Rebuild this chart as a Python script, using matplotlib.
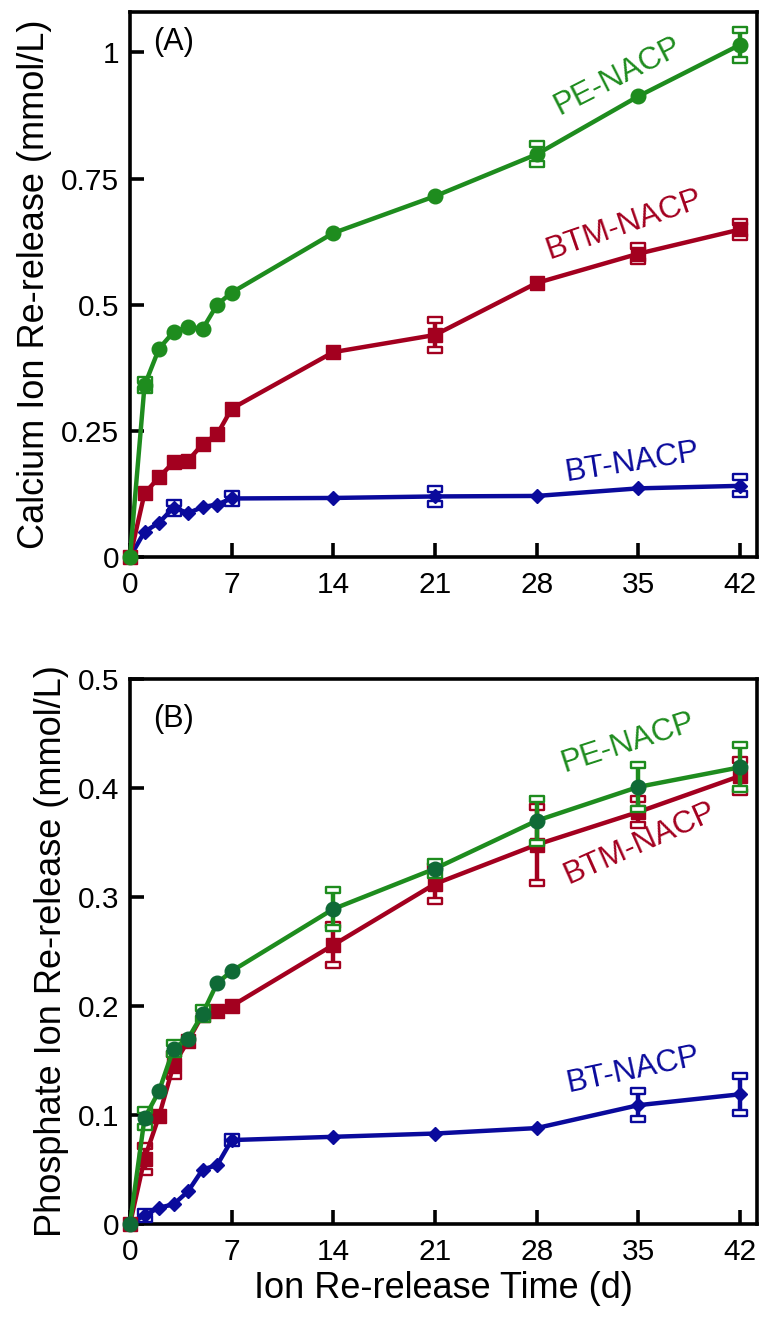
import numpy as np
import matplotlib
matplotlib.use("Agg")
import matplotlib.pyplot as plt
from matplotlib.path import Path

plt.rcParams['font.family'] = ['Liberation Sans', 'DejaVu Sans']

days = [0, 1, 2, 3, 4, 5, 6, 7, 14, 21, 28, 35, 42]
xticks = [0, 7, 14, 21, 28, 35, 42]

# Panel A: calcium
ca_pe = [0, 0.340, 0.413, 0.446, 0.456, 0.452, 0.500, 0.524, 0.642, 0.715, 0.798, 0.913, 1.015]
ca_pe_err = [0, 0.010, 0, 0, 0, 0, 0, 0, 0, 0, 0.020, 0, 0.030]
ca_btm = [0, 0.126, 0.158, 0.188, 0.191, 0.224, 0.243, 0.294, 0.406, 0.440, 0.543, 0.601, 0.649]
ca_btm_err = [0, 0, 0, 0, 0, 0, 0, 0, 0, 0.030, 0, 0.015, 0.015]
ca_bt = [0, 0.050, 0.068, 0.098, 0.087, 0.099, 0.104, 0.116, 0.117, 0.120, 0.121, 0.136, 0.141]
ca_bt_err = [0, 0, 0, 0.010, 0, 0, 0, 0.008, 0, 0.015, 0, 0, 0.017]

# Panel B: phosphate
p_pe = [0, 0.097, 0.122, 0.161, 0.170, 0.193, 0.221, 0.232, 0.289, 0.326, 0.370, 0.401, 0.419]
p_pe_err = [0, 0.008, 0, 0.005, 0, 0.005, 0, 0, 0.017, 0.006, 0.020, 0.020, 0.020]
p_btm = [0, 0.060, 0.099, 0.146, 0.168, 0.192, 0.195, 0.200, 0.256, 0.312, 0.348, 0.378, 0.411]
p_btm_err = [0, 0.012, 0, 0.010, 0, 0, 0, 0, 0.018, 0.016, 0.035, 0.012, 0.015]
p_bt = [0, 0.008, 0.015, 0.018, 0.030, 0.050, 0.054, 0.077, 0.080, 0.083, 0.088, 0.109, 0.119]
p_bt_err = [0, 0.003, 0, 0, 0, 0, 0, 0.003, 0, 0, 0, 0.013, 0.017]

GREEN = "#1E8C1E"
GREEN_DARK = "#0F6A36"
RED = "#A3001F"
BLUE = "#0A0A9C"

cap_path = Path([(-1, -0.38), (1, -0.38), (1, 0.38), (-1, 0.38), (-1, -0.38)],
                [Path.MOVETO, Path.LINETO, Path.LINETO, Path.LINETO, Path.CLOSEPOLY])

fig = plt.figure(figsize=(7.63, 13.17), dpi=100)
axA = fig.add_axes([130/763, 1-557/1317, 627/763, 545/1317])
axB = fig.add_axes([130/763, 1-1224/1317, 627/763, 545/1317])


def draw(ax, y, err, color, mcolor, marker, ms, z):
    x = np.array(days, float)
    y = np.array(y, float)
    e = np.array(err, float)
    m = e > 0
    if m.any():
        eb = ax.errorbar(x[m], y[m], yerr=e[m], fmt='none', ecolor=color,
                         elinewidth=3.2, capsize=4.8, zorder=z, clip_on=False)
        for cl in eb[1]:
            cl.set_marker(cap_path)
            cl.set_markersize(9.5)
            cl.set_markerfacecolor('white')
            cl.set_markeredgecolor(color)
            cl.set_markeredgewidth(1.7)
    ax.plot(x, y, color=color, lw=3.2, marker=marker, ms=ms, mfc=mcolor,
            mec=mcolor, zorder=z + 0.5, clip_on=False)


def style(ax):
    for s in ax.spines.values():
        s.set_linewidth(2.6)
    ax.tick_params(direction='in', length=10, width=2.6, labelsize=21.5,
                   top=False, right=False)
    ax.tick_params(axis='x', pad=10)
    ax.tick_params(axis='y', pad=8)
    ax.set_xlim(0, 43.17)
    ax.set_xticks(xticks)
    ax.set_xticklabels([str(t) for t in xticks])


# Panel A
draw(axA, ca_bt, ca_bt_err, BLUE, BLUE, 'D', 7.5, 3)
draw(axA, ca_btm, ca_btm_err, RED, RED, 's', 10.5, 4)
draw(axA, ca_pe, ca_pe_err, GREEN, GREEN, 'o', 10.5, 5)
style(axA)
axA.set_ylim(0, 1.08)
axA.set_yticks([0, 0.25, 0.5, 0.75, 1])
axA.set_yticklabels(["0", "0.25", "0.5", "0.75", "1"])
axA.set_ylabel("Calcium Ion Re-release (mmol/L)", fontsize=26, labelpad=6)
axA.text(0.037, 0.945, "(A)", transform=axA.transAxes, fontsize=22,
         ha='left', va='center')
axA.text(33.6, 0.952, "PE-NACP", color=GREEN, fontsize=22.5, rotation=27,
         ha='center', va='center', rotation_mode='anchor')
axA.text(34.0, 0.658, "BTM-NACP", color=RED, fontsize=22.5, rotation=19,
         ha='center', va='center', rotation_mode='anchor')
axA.text(34.6, 0.188, "BT-NACP", color=BLUE, fontsize=22.5, rotation=9,
         ha='center', va='center', rotation_mode='anchor')

# Panel B
draw(axB, p_bt, p_bt_err, BLUE, BLUE, 'D', 7.5, 3)
draw(axB, p_btm, p_btm_err, RED, RED, 's', 10.5, 4)
draw(axB, p_pe, p_pe_err, GREEN, GREEN_DARK, 'o', 10.5, 5)
style(axB)
axB.set_ylim(0, 0.5)
axB.set_yticks([0, 0.1, 0.2, 0.3, 0.4, 0.5])
axB.set_yticklabels(["0", "0.1", "0.2", "0.3", "0.4", "0.5"])
axB.set_ylabel("Phosphate Ion Re-release (mmol/L)", fontsize=26, labelpad=6)
axB.set_xlabel("Ion Re-release Time (d)", fontsize=26, labelpad=4)
axB.text(0.037, 0.927, "(B)", transform=axB.transAxes, fontsize=22,
         ha='left', va='center')
axB.text(34.3, 0.441, "PE-NACP", color=GREEN, fontsize=22.5, rotation=18,
         ha='center', va='center', rotation_mode='anchor')
axB.text(35.1, 0.349, "BTM-NACP", color=RED, fontsize=22.5, rotation=24,
         ha='center', va='center', rotation_mode='anchor')
axB.text(34.6, 0.1415, "BT-NACP", color=BLUE, fontsize=22.5, rotation=12,
         ha='center', va='center', rotation_mode='anchor')

fig.savefig("out.png", dpi=100)
